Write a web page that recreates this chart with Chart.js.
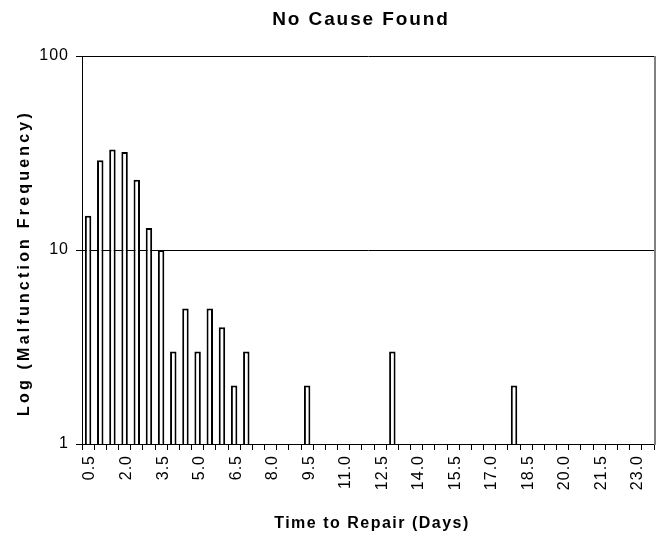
<!DOCTYPE html>
<html>
<head>
<meta charset="utf-8">
<script src="https://cdn.jsdelivr.net/npm/chart.js@4/dist/chart.umd.min.js"></script>
<style>
  html, body { margin: 0; padding: 0; background: #fff; }
  #wrap { width: 662px; height: 537px; }
</style>
</head>
<body>
<div id="wrap"><canvas id="chart" width="662" height="537"></canvas></div>
<script>
// Repair time buckets (days), half-day steps
const days = [
  '0.5', '1.0', '1.5', '2.0', '2.5', '3.0', '3.5', '4.0', '4.5', '5.0',
  '5.5', '6.0', '6.5', '7.0', '7.5', '8.0', '8.5', '9.0', '9.5', '10.0',
  '10.5', '11.0', '11.5', '12.0', '12.5', '13.0', '13.5', '14.0', '14.5', '15.0',
  '15.5', '16.0', '16.5', '17.0', '17.5', '18.0', '18.5', '19.0', '19.5', '20.0',
  '20.5', '21.0', '21.5', '22.0', '22.5', '23.0', '23.5',
];

// Malfunction counts per bucket (empty buckets left null)
const frequency = [
  15, 29, 33, 32, 23, 13, 10, 3, 5, 3,
  5, 4, 2, 3, null, null, null, null, 2, null,
  null, null, null, null, null, 3, null, null, null, null,
  null, null, null, null, null, 2, null, null, null, null,
  null, null, null, null, null, null, null,
];

const yTicks = [1, 10, 100];

const chartTitle = 'No Cause Found';
const xTitle = 'Time to Repair (Days)';
const yTitle = 'Log (Malfunction Frequency)';

const FONT = "'Liberation Sans', Arial, sans-serif";

// Excel-style loose text spacing for the tick labels
const tickSpacing = {
  id: 'tickSpacing',
  beforeLayout(chart) { chart.ctx.letterSpacing = '1px'; },
  beforeDraw(chart) { chart.ctx.letterSpacing = '1px'; },
};

// grey plot-area edge on the right plus the three titles
const frameAndTitles = {
  id: 'frameAndTitles',
  afterDraw(chart) {
    const { ctx, chartArea: a } = chart;
    ctx.save();
    ctx.strokeStyle = '#808080';
    ctx.lineWidth = 2;
    ctx.beginPath();
    ctx.moveTo(Math.round(a.right) + 1, a.top);
    ctx.lineTo(Math.round(a.right) + 1, a.bottom + 1);
    ctx.stroke();

    ctx.fillStyle = '#000';
    ctx.textAlign = 'center';
    ctx.textBaseline = 'alphabetic';

    ctx.font = `bold 19px ${FONT}`;
    ctx.letterSpacing = '1.9px';
    ctx.fillText(chartTitle, 361, 25);

    ctx.font = `bold 16px ${FONT}`;
    ctx.letterSpacing = '1.5px';
    ctx.fillText(xTitle, 372, 528);

    ctx.letterSpacing = '3.2px';
    ctx.translate(29, 263);
    ctx.rotate(-Math.PI / 2);
    ctx.fillText(yTitle, 0, 0);
    ctx.restore();
  },
};

const ctx = document.getElementById('chart').getContext('2d');
new Chart(ctx, {
  type: 'bar',
  data: {
    labels: days,
    datasets: [{
      data: frequency,
      backgroundColor: '#fff',
      borderColor: '#000',
      borderWidth: 2,
      barPercentage: 0.53,
      categoryPercentage: 1,
    }],
  },
  plugins: [tickSpacing, frameAndTitles],
  options: {
    responsive: false,
    animation: false,
    layout: { padding: { left: 0, right: 8, top: 56, bottom: 0 } },
    plugins: {
      legend: { display: false },
      tooltip: { enabled: false },
      title: { display: false },
    },
    scales: {
      x: {
        type: 'category',
        offset: true,
        afterFit: (s) => {
          s.height = 93;
          s.paddingLeft = 0;
          s.paddingRight = 0;
        },
        grid: {
          offset: true,
          drawOnChartArea: false,
          tickLength: 6,
          color: '#000',
        },
        border: { display: true, color: '#000', width: 1 },
        ticks: {
          autoSkip: false,
          minRotation: 90,
          maxRotation: 90,
          padding: 5,
          labelOffset: 2,
          color: '#000',
          font: { family: FONT, size: 16 },
          callback: (v, i) => (i % 3 === 0 ? days[i] : ''),
        },
      },
      y: {
        type: 'logarithmic',
        min: 1,
        max: 100,
        afterFit: (s) => {
          s.width = 82;
          s.paddingTop = 0;
          s.paddingBottom = 0;
        },
        afterBuildTicks: (s) => { s.ticks = yTicks.map((v) => ({ value: v })); },
        grid: {
          color: '#000',
          lineWidth: 1,
          tickLength: 6,
        },
        border: { display: true, color: '#000', width: 1 },
        ticks: {
          padding: 7,
          color: '#000',
          font: { family: FONT, size: 16 },
          callback: (v) => String(v),
        },
      },
    },
  },
});
</script>
</body>
</html>
